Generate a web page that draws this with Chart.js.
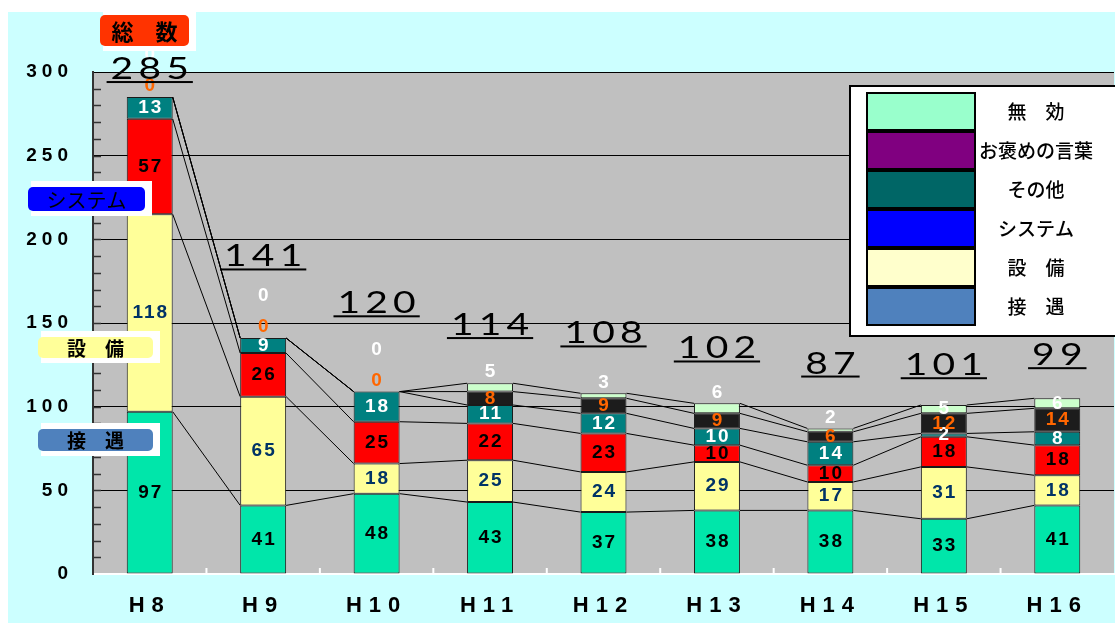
<!DOCTYPE html>
<html>
<head>
<meta charset="utf-8">
<script src="https://cdn.jsdelivr.net/npm/chart.js@4.4.1/dist/chart.umd.min.js"></script>
<style>
  body { margin: 0; background: #ffffff; }
  canvas { display: block; }
</style>
</head>
<body>
<canvas id="chart" width="1115" height="626"></canvas>
<script>
// 年度
var categories = ['H8', 'H9', 'H10', 'H11', 'H12', 'H13', 'H14', 'H15', 'H16'];

// 件数 (下から積み上げ)
var setsugu = [97, 41, 48, 43, 37, 38, 38, 33, 41];      // 接遇
var setsubi = [118, 65, 18, 25, 24, 29, 17, 31, 18];     // 設備
var system  = [57, 26, 25, 22, 23, 10, 10, 18, 18];      // システム
var sonota  = [13, 9, 18, 11, 12, 10, 14, 2, 8];         // その他
var ohome   = [0, 0, 0, 8, 9, 9, 6, 12, 14];             // お褒めの言葉
var mukou   = [0, 0, 0, 5, 3, 6, 2, 5, 6];               // 無効

// 総数ラベル
var totals = [285, 141, 120, 114, 108, 102, 87, 101, 99];
// 総数ラベルの下線の高さ (目盛の値)
var totalLabelAt = [294, 182, 154, 141, 136, 127, 118, 117, 123];

var barColors   = ['#00E6AA', '#FFFF99', '#FF0000', '#008080', '#1C1C1C', '#CCFFCC'];
var labelColors = ['#000000', '#003366', '#000000', '#ffffff', '#FF6600', '#ffffff'];
var legendColors = ['#4F81BD', '#FFFFCC', '#0000FF', '#006666', '#800080', '#99FFCC'];

var NUM_FONT = "'Liberation Sans', Arial, sans-serif";
var JP_FONT = "'Noto Sans CJK JP', sans-serif";

function callout(ctx, x, y, w, h, color, text, font) {
  ctx.fillStyle = '#ffffff';
  ctx.fillRect(x + 3, y - 6, w + 4, h + 11);
  ctx.fillStyle = color;
  ctx.beginPath();
  ctx.roundRect(x, y, w, h, 5);
  ctx.fill();
  ctx.fillStyle = '#000000';
  ctx.font = font;
  ctx.textAlign = 'center';
  ctx.textBaseline = 'middle';
  ctx.fillText(text, x + w / 2, y + h / 2 + 1);
}

var decor = {
  id: 'decor',
  beforeDraw: function(chart) {
    var ctx = chart.ctx, a = chart.chartArea;
    ctx.save();
    ctx.fillStyle = '#ffffff';
    ctx.fillRect(0, 0, chart.width, chart.height);
    ctx.fillStyle = '#CCFFFF';
    ctx.fillRect(8, 12, chart.width - 8, chart.height - 15);
    ctx.fillStyle = '#C0C0C0';
    ctx.fillRect(a.left, a.top, a.right - a.left, a.bottom - a.top);
    ctx.restore();
    // y軸の数字は字間を空ける
    ctx.letterSpacing = '5px';
  },
  beforeDatasetsDraw: function(chart) {
    var ctx = chart.ctx, a = chart.chartArea, y = chart.scales.y;
    ctx.save();
    ctx.letterSpacing = '0px';
    // 補助目盛
    ctx.strokeStyle = '#333333';
    ctx.lineWidth = 1.5;
    for (var v = 10; v < 300; v += 10) {
      var py = Math.round(y.getPixelForValue(v)) + 0.5;
      ctx.beginPath();
      ctx.moveTo(a.left, py);
      ctx.lineTo(a.left + 8, py);
      ctx.stroke();
    }
    // 横軸の白い目盛
    ctx.strokeStyle = '#ffffff';
    ctx.lineWidth = 2;
    var step = (a.right - a.left) / categories.length;
    for (var i = 1; i < categories.length; i++) {
      var px = a.left + step * i;
      ctx.beginPath();
      ctx.moveTo(px, a.bottom);
      ctx.lineTo(px, a.bottom - 6);
      ctx.stroke();
    }
    ctx.restore();
  },
  afterDatasetsDraw: function(chart) {
    var ctx = chart.ctx;
    var metas = chart.getSortedVisibleDatasetMetas();
    ctx.save();
    // 区分線
    ctx.strokeStyle = '#000000';
    ctx.lineWidth = 1;
    metas.forEach(function(meta) {
      for (var i = 0; i < meta.data.length - 1; i++) {
        var b1 = meta.data[i], b2 = meta.data[i + 1];
        ctx.beginPath();
        ctx.moveTo(b1.x + b1.width / 2, b1.y);
        ctx.lineTo(b2.x - b2.width / 2, b2.y);
        ctx.stroke();
      }
    });
    ctx.restore();
    // x軸ラベルの字間
    ctx.letterSpacing = '7px';
  },
  afterDraw: function(chart) {
    var ctx = chart.ctx;
    var metas = chart.getSortedVisibleDatasetMetas();
    ctx.save();

    // データラベル
    ctx.letterSpacing = '2px';
    ctx.font = 'bold 19px ' + NUM_FONT;
    ctx.textAlign = 'center';
    ctx.textBaseline = 'middle';
    metas.forEach(function(meta, d) {
      var values = chart.data.datasets[d].data;
      for (var i = 0; i < meta.data.length; i++) {
        var el = meta.data[i], v = values[i];
        var ly = (el.y + el.base) / 2;
        if (d == 5) {
          if (v == 0) ly = el.y - 42;
          else if (i < 7) ly = el.y - 11;
        } else if (d == 4 && v == 0) {
          ly = el.y - 11;
        }
        ctx.fillStyle = labelColors[d];
        ctx.fillText(String(v), el.x + 1, ly);
      }
    });

    // 総数 (細い横長の数字)
    var sx = 1.3;
    ctx.letterSpacing = '4px';
    ctx.font = "30px Lato, 'Liberation Sans', sans-serif";
    ctx.textBaseline = 'alphabetic';
    ctx.fillStyle = '#000000';
    for (var i = 0; i < totals.length; i++) {
      var cx = metas[0].data[i].x;
      var uy = chart.scales.y.getPixelForValue(totalLabelAt[i]);
      var txt = String(totals[i]);
      var w = (ctx.measureText(txt).width - 4) * sx;
      ctx.save();
      ctx.translate(cx, uy - 3);
      ctx.scale(sx, 1);
      ctx.fillText(txt, 2, 0);
      ctx.restore();
      ctx.fillRect(cx - w / 2 - 4, uy - 1, w + 8, 2);
    }

    // 吹き出し
    ctx.letterSpacing = '0px';
    callout(ctx, 100, 15, 89, 31, '#FF3300', '総　数', 'bold 22px ' + JP_FONT);
    callout(ctx, 28, 187, 117, 24, '#0000FF', 'システム', '20px ' + JP_FONT);
    callout(ctx, 38, 337, 115, 21, '#FFFF99', '設　備', 'bold 19px ' + JP_FONT);
    callout(ctx, 38, 429, 115, 22, '#4F81BD', '接　遇', 'bold 19px ' + JP_FONT);

    // 凡例
    ctx.fillStyle = '#ffffff';
    ctx.fillRect(850, 86, 270, 250);
    ctx.strokeStyle = '#000000';
    ctx.lineWidth = 2;
    ctx.strokeRect(850, 86, 270, 250);
    ctx.font = '500 19px ' + JP_FONT;
    ctx.textAlign = 'center';
    ctx.textBaseline = 'middle';
    var n = chart.data.datasets.length;
    for (var k = 0; k < n; k++) {
      var d = n - 1 - k;
      var ry = 93 + k * 39;
      ctx.fillStyle = legendColors[d];
      ctx.fillRect(867, ry, 108, 37);
      ctx.strokeRect(867, ry, 108, 37);
      ctx.fillStyle = '#000000';
      ctx.fillText(chart.data.datasets[d].label, 1036, ry + 19);
    }
    ctx.restore();
  }
};

var seriesLabels = ['接　遇', '設　備', 'システム', 'その他', 'お褒めの言葉', '無　効'];
var seriesData = [setsugu, setsubi, system, sonota, ohome, mukou];

var datasets = seriesData.map(function(vals, d) {
  return {
    label: seriesLabels[d],
    data: vals,
    backgroundColor: barColors[d],
    borderColor: '#1a1a1a',
    borderWidth: 1,
    borderSkipped: false,
    barPercentage: 0.405,
    categoryPercentage: 1
  };
});

Chart.defaults.font.family = NUM_FONT;

var ctx = document.getElementById('chart').getContext('2d');
var myChart = new Chart(ctx, {
  type: 'bar',
  data: {
    labels: categories,
    datasets: datasets
  },
  options: {
    responsive: false,
    animation: false,
    layout: { padding: { top: 72, right: 1, left: 0, bottom: 0 } },
    plugins: {
      legend: { display: false },
      tooltip: { enabled: false }
    },
    scales: {
      x: {
        stacked: true,
        grid: { display: false, drawTicks: false },
        border: { color: '#ffffff', width: 2 },
        ticks: { z: 1, color: '#000000', padding: 19, font: { size: 22, weight: 'bold' } },
        afterFit: function(s) { s.height = 52; }
      },
      y: {
        stacked: true,
        min: 0,
        max: 300,
        grid: { color: '#000000', lineWidth: 1, drawTicks: false },
        border: { color: '#333333', width: 2 },
        ticks: { stepSize: 50, color: '#000000', padding: 20, font: { size: 19, weight: 'bold' } },
        afterFit: function(s) { s.width = 93; }
      }
    }
  },
  plugins: [decor]
});
</script>
</body>
</html>
